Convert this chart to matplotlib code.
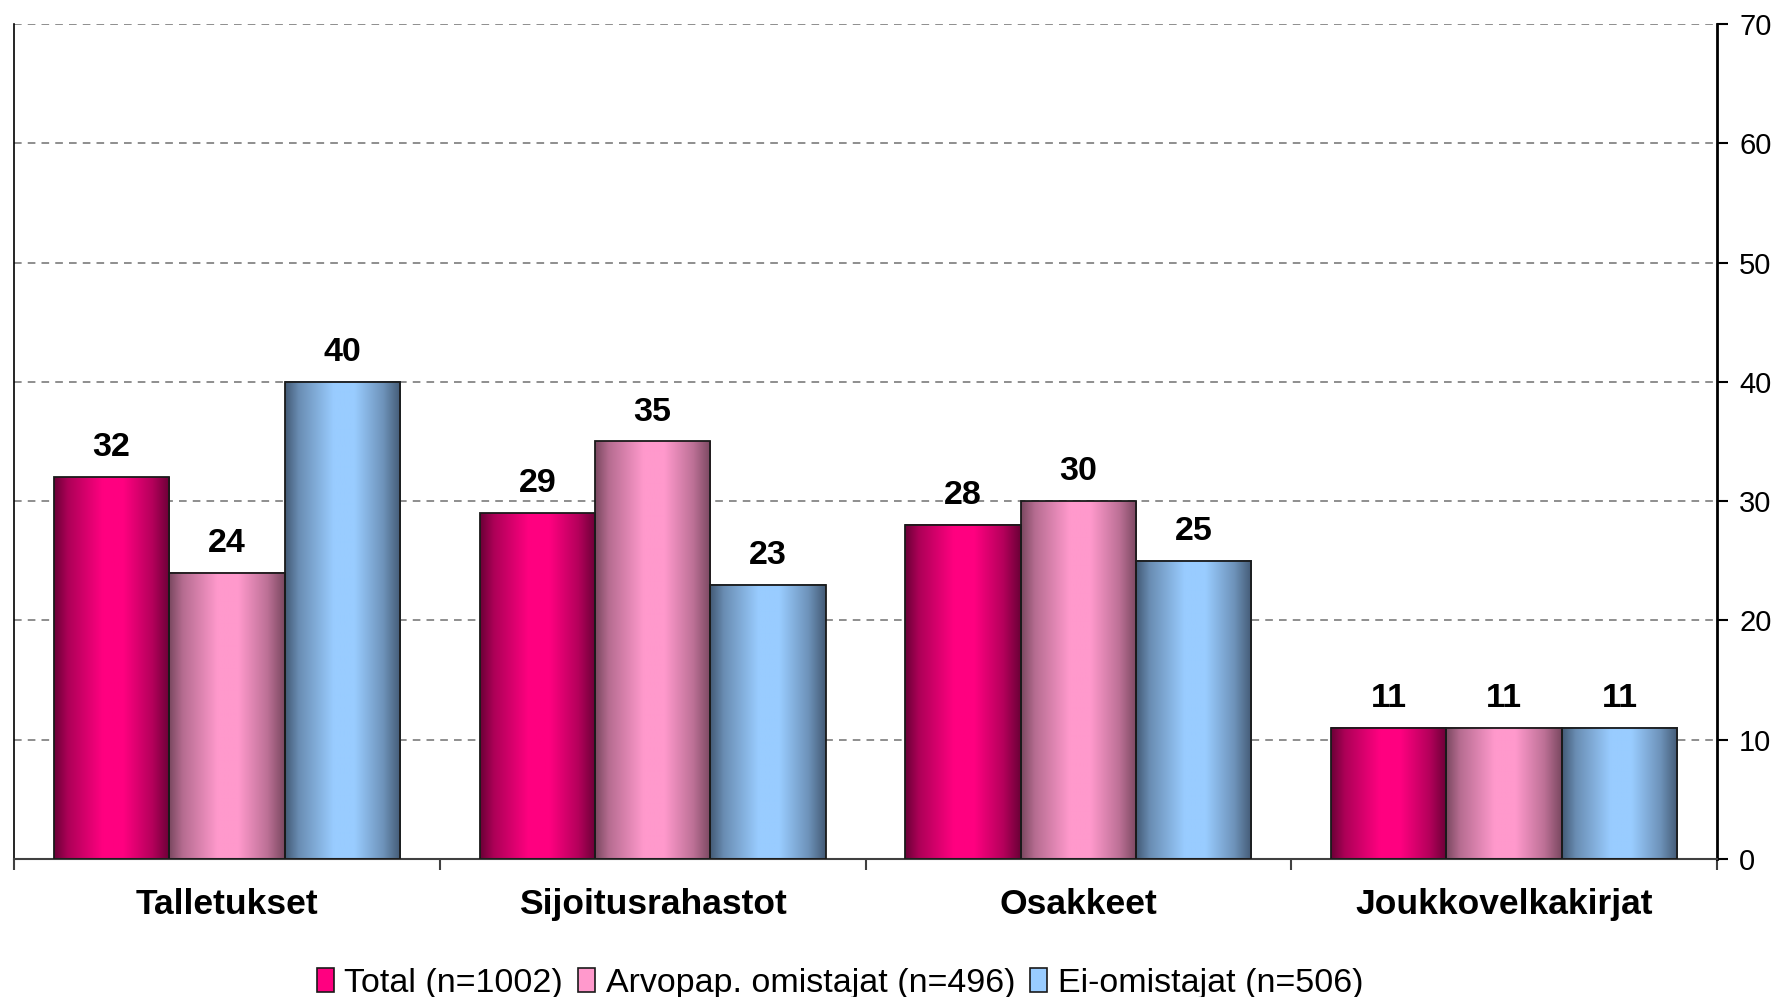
import numpy as np
import matplotlib.pyplot as plt
from matplotlib.colors import LinearSegmentedColormap, to_rgb
from matplotlib.patches import Patch

categories = ['Talletukset', 'Sijoitusrahastot', 'Osakkeet', 'Joukkovelkakirjat']
series = ['Total (n=1002)', 'Arvopap. omistajat (n=496)', 'Ei-omistajat (n=506)']
total = [32, 29, 28, 11]
arvopap = [24, 35, 30, 11]
ei_omistajat = [40, 23, 25, 11]
values = [total, arvopap, ei_omistajat]
yticks = [0, 10, 20, 30, 40, 50, 60, 70]

bright = ['#ff0080', '#ff99cc', '#99ccff']
dark = ['#6a0036', '#7a4860', '#435a75']

plt.rcParams['font.family'] = ['Liberation Sans', 'DejaVu Sans']

fig = plt.figure(figsize=(17.8, 9.97), dpi=100)
ax = fig.add_axes([0.0079, 0.1384, 0.9567, 0.8376])


def make_cmap(c_dark, c_bright):
    d = np.array(to_rgb(c_dark))
    b = np.array(to_rgb(c_bright))
    stops = [(0.0, 0.0), (0.12, 0.45), (0.42, 1.0), (0.6, 1.0), (0.85, 0.5), (1.0, 0.0)]
    cols = [(t, tuple(d + (b - d) * f)) for t, f in stops]
    return LinearSegmentedColormap.from_list('g', cols)


x = np.arange(len(categories))
w = 0.271
grad = np.linspace(0, 1, 256).reshape(1, -1)
for i, vals in enumerate(values):
    cmap = make_cmap(dark[i], bright[i])
    xs = x + (i - 1) * w
    bars = ax.bar(xs, vals, w, facecolor='none', edgecolor='#1a1a1a', linewidth=1.3, zorder=3)
    for b, v in zip(bars, vals):
        x0 = b.get_x()
        ax.imshow(grad, cmap=cmap, extent=(x0, x0 + w, 0, v), aspect='auto', zorder=2,
                  interpolation='bilinear')
        ax.annotate(str(v), (x0 + w / 2, v), xytext=(0, 10), textcoords='offset points',
                    ha='center', va='bottom', fontsize=24.5, fontweight='bold')

ax.set_xlim(-0.5, len(categories) - 0.5)
ax.set_ylim(0, 70)
ax.yaxis.tick_right()
ax.set_yticks(yticks)
ax.tick_params(axis='y', direction='out', length=8, width=1.5, labelsize=21, pad=8)
ax.set_xticks(x)
ax.set_xticklabels(categories, fontsize=25.5, fontweight='bold')
ax.set_xticks(np.arange(-0.5, len(categories)), minor=True)
ax.tick_params(axis='x', which='major', length=0, pad=21)
ax.tick_params(axis='x', which='minor', length=8, width=1.5, color='#404040')

ax.yaxis.grid(True, linestyle=(0, (5, 4)), color='#707070', linewidth=1.1)
ax.set_axisbelow(True)
ax.spines['top'].set_visible(False)
ax.spines['right'].set_linewidth(2)
ax.spines['left'].set_linewidth(1.2)
ax.spines['bottom'].set_color('#404040')
ax.spines['bottom'].set_linewidth(1.5)

handles = [Patch(facecolor=bright[i], edgecolor='#1a1a1a', linewidth=1.2) for i in range(3)]
fig.legend(handles, series, loc='lower center', bbox_to_anchor=(0.472, -0.033), ncol=3,
           frameon=False, fontsize=24.5, handlelength=0.5, handleheight=0.7,
           handletextpad=0.3, columnspacing=0.45)

fig.savefig('out.png', dpi=100)
